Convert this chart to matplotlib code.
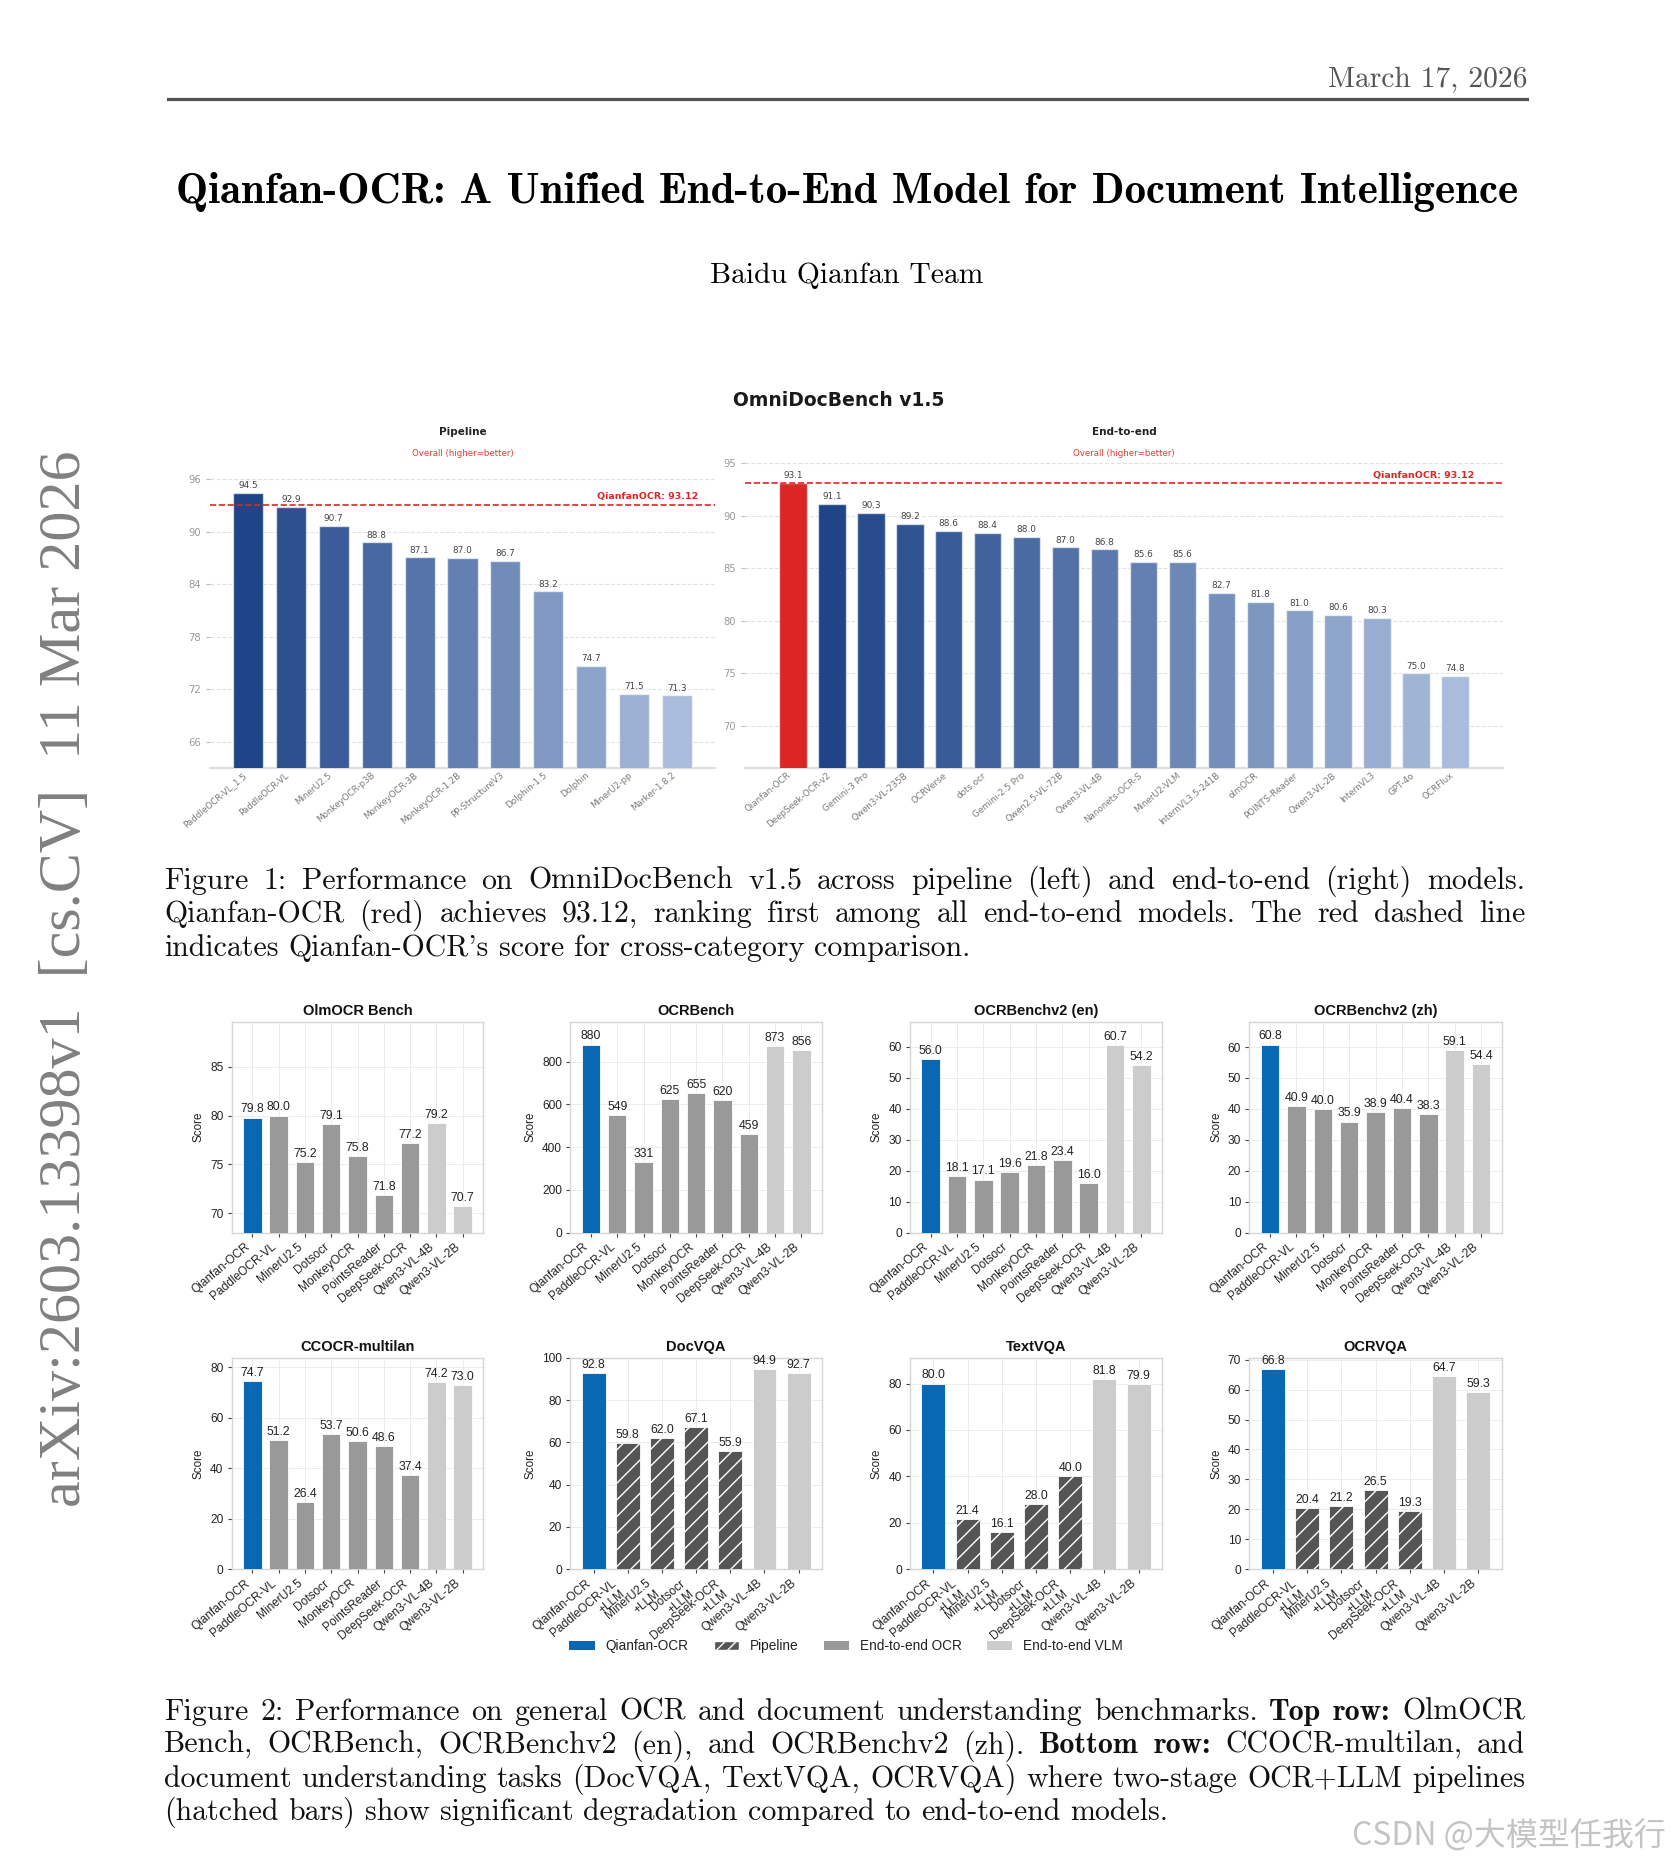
import matplotlib
matplotlib.use("Agg")
import matplotlib.pyplot as plt
from matplotlib.patches import Patch
from matplotlib.colors import to_rgb
import numpy as np

# ---------------- data ----------------
pipe_models = ["PaddleOCR-VL_1.5", "PaddleOCR-VL", "MinerU2.5", "MonkeyOCR-p3B", "MonkeyOCR-3B",
               "MonkeyOCR-1.2B", "PP-StructureV3", "Dolphin-1.5", "Dolphin", "MinerU2-pp", "Marker-1.8.2"]
pipe_scores = [94.5, 92.9, 90.7, 88.8, 87.1, 87.0, 86.7, 83.2, 74.7, 71.5, 71.3]

e2e_models = ["Qianfan-OCR", "DeepSeek-OCR-v2", "Gemini-3 Pro", "Qwen3-VL-235B", "OCRVerse", "dots.ocr",
              "Gemini-2.5 Pro", "Qwen2.5-VL-72B", "Qwen3-VL-4B", "Nanonets-OCR-S", "MinerU2-VLM",
              "InternVL3.5-241B", "olmOCR", "POINTS-Reader", "Qwen3-VL-2B", "InternVL3", "GPT-4o", "OCRFlux"]
e2e_scores = [93.12, 91.1, 90.3, 89.2, 88.6, 88.4, 88.0, 87.0, 86.8, 85.6, 85.6, 82.7, 81.8, 81.0,
              80.6, 80.3, 75.0, 74.8]
qianfan_omni = 93.12

ocr_models = ["Qianfan-OCR", "PaddleOCR-VL", "MinerU2.5", "Dotsocr", "MonkeyOCR", "PointsReader",
              "DeepSeek-OCR", "Qwen3-VL-4B", "Qwen3-VL-2B"]
ocr_groups = ["qianfan", "e2e", "e2e", "e2e", "e2e", "e2e", "e2e", "vlm", "vlm"]
olmocr_bench = [79.8, 80.0, 75.2, 79.1, 75.8, 71.8, 77.2, 79.2, 70.7]
ocrbench = [880, 549, 331, 625, 655, 620, 459, 873, 856]
ocrbenchv2_en = [56.0, 18.1, 17.1, 19.6, 21.8, 23.4, 16.0, 60.7, 54.2]
ocrbenchv2_zh = [60.8, 40.9, 40.0, 35.9, 38.9, 40.4, 38.3, 59.1, 54.4]
ccocr_multilan = [74.7, 51.2, 26.4, 53.7, 50.6, 48.6, 37.4, 74.2, 73.0]

vqa_models = ["Qianfan-OCR", "PaddleOCR-VL\n+LLM", "MinerU2.5\n+LLM", "Dotsocr\n+LLM",
              "DeepSeek-OCR\n+LLM", "Qwen3-VL-4B", "Qwen3-VL-2B"]
vqa_groups = ["qianfan", "pipeline", "pipeline", "pipeline", "pipeline", "vlm", "vlm"]
docvqa = [92.8, 59.8, 62.0, 67.1, 55.9, 94.9, 92.7]
textvqa = [80.0, 21.4, 16.1, 28.0, 40.0, 81.8, 79.9]
ocrvqa = [66.8, 20.4, 21.2, 26.5, 19.3, 64.7, 59.3]

legend_labels = ["Qianfan-OCR", "Pipeline", "End-to-end OCR", "End-to-end VLM"]

cap1 = ["Figure 1:  Performance on OmniDocBench v1.5 across pipeline (left) and end-to-end (right) models.",
        "Qianfan-OCR (red) achieves 93.12, ranking first among all end-to-end models.  The red dashed line",
        "indicates Qianfan-OCR's score for cross-category comparison."]
cap2 = ["Figure 2: Performance on general OCR and document understanding benchmarks. *Top* *row:* OlmOCR",
        "Bench, OCRBench, OCRBenchv2 (en), and OCRBenchv2 (zh).  *Bottom* *row:* CCOCR-multilan, and",
        "document understanding tasks (DocVQA, TextVQA, OCRVQA) where two-stage OCR+LLM pipelines",
        "(hatched bars) show significant degradation compared to end-to-end models."]

# ---------------- figure ----------------
W, H, DPI = 1671, 1868, 100
plt.rcParams['font.family'] = ['DejaVu Sans']
fig = plt.figure(figsize=(W / DPI, H / DPI), dpi=DPI)
fig.patch.set_facecolor('white')
R = fig.canvas.get_renderer()

SERIF = ['cmr10', 'DejaVu Serif']
SERIF_B = ['cmb10', 'DejaVu Serif']
CAP_X0, CAP_X1 = 164, 1525


def fx(x):
    return x / W


def fy(y):
    return 1 - y / H


def add_ax(x0, y0, x1, y1):
    return fig.add_axes([fx(x0), fy(y1), (x1 - x0) / W, (y1 - y0) / H])


def width_of(t):
    return t.get_window_extent(renderer=R).width


def fitted(x, y, s, target_w, **kw):
    t = fig.text(fx(x), fy(y), s, fontsize=20, **kw)
    t.set_fontsize(20 * target_w / width_of(t))
    return t


def make_words(text, size, y=0):
    objs = []
    for w in text.split():
        bold = w.startswith('*')
        w = w.strip('*')
        objs.append(fig.text(0, fy(y), w, fontsize=size, family=SERIF_B if bold else SERIF,
                             va='baseline', ha='left', color='#111111'))
    return objs


def natural_scale(text):
    objs = make_words(text, 20)
    ws = sum(width_of(o) for o in objs)
    sp = 0.333 * 20 * DPI / 72
    nat = ws + sp * (len(objs) - 1)
    for o in objs:
        o.remove()
    return (CAP_X1 - CAP_X0) / nat


def caption_line(y, text, size, justify=True):
    objs = make_words(text, size, y)
    ws = [width_of(o) for o in objs]
    if justify and len(objs) > 1:
        gap = (CAP_X1 - CAP_X0 - sum(ws)) / (len(objs) - 1)
    else:
        gap = 0.333 * size * DPI / 72
    x = CAP_X0
    for o, w in zip(objs, ws):
        o.set_x(fx(x))
        x += w + gap


# caption font size: tightest justified line sets natural spacing
cap_size = 20 * min(natural_scale(t) for t in cap1[:-1] + cap2[:-1])

# ---------------- page header ----------------
fitted(1527, 79.5, "March 17, 2026", 200, family=SERIF, ha='right', va='center', color='#555555')
fig.add_artist(plt.Line2D([fx(168), fx(1527)], [fy(99), fy(99)], color='#555555', lw=2.3))
fitted(847.5, 192, "Qianfan-OCR: A Unified End-to-End Model for Document Intelligence", 1341,
       family=SERIF_B, ha='center', va='center', color='black')
fitted(847, 276, "Baidu Qianfan Team", 274, family=SERIF, ha='center', va='center', color='black')

# arXiv side stamp
arx = fig.text(fx(66), fy(979), "arXiv:2603.13398v1  [cs.CV]  11 Mar 2026", fontsize=40,
               family=['Liberation Serif', 'DejaVu Serif'], color='#808080', ha='center', va='center')
arx.set_fontsize(40 * 1056 / width_of(arx))
arx.set_rotation(90)

# watermark
fitted(1666, 1836, "CSDN @大模型任我行", 313, family=['Noto Sans CJK SC', 'DejaVu Sans'],
       ha='right', va='center', color='#c4c4c4')

# ---------------- Figure 1 ----------------
fig.text(fx(839), fy(401), "OmniDocBench v1.5", fontsize=13.5, fontweight='bold', ha='center',
         va='center', color='#1a1a1a')


def ramp(n, c0='#1f4488', c1='#a9bcdb'):
    a, b = np.array(to_rgb(c0)), np.array(to_rgb(c1))
    return [tuple(a + (b - a) * i / (n - 1)) for i in range(n)]


def omni_panel(ax, names, vals, colors, ticks, ylim, title, xc):
    x = np.arange(len(vals))
    ax.bar(x, vals, width=0.7, color=colors, edgecolor=(1, 1, 1, 0.6), linewidth=1.0, zorder=3)
    ax.set_ylim(*ylim)
    ax.set_yticks(ticks)
    ax.yaxis.grid(True, ls='--', color='#e2e2e2', lw=0.8)
    ax.set_axisbelow(True)
    for s in ['left', 'top', 'right']:
        ax.spines[s].set_visible(False)
    ax.spines['bottom'].set_color('#dddddd')
    ax.spines['bottom'].set_linewidth(1.5)
    ax.tick_params(axis='y', length=3, width=0.8, color='#bbbbbb', labelcolor='#999999', labelsize=7.2)
    ax.tick_params(axis='x', length=0, labelcolor='#7a7a7a', labelsize=6.3, pad=2)
    ax.set_xticks(x)
    ax.set_xticklabels(names, rotation=40, ha='right')
    for xi, v in zip(x, vals):
        ax.annotate(f"{v:.1f}", (xi, v), xytext=(0, 2), textcoords='offset points',
                    ha='center', va='bottom', fontsize=6.4, color='#444444')
    ax.axhline(qianfan_omni, color='#dc2626', ls='--', lw=1.2, zorder=4)
    ax.annotate(f"QianfanOCR: {qianfan_omni:.2f}", (len(vals) - 0.5, qianfan_omni), xytext=(0, 2.5),
                textcoords='offset points', ha='right', va='bottom', color='#dc2626',
                fontsize=6.8, fontweight='bold')
    fig.text(fx(xc), fy(432), title, fontsize=7.5, fontweight='bold', ha='center', va='center',
             color='#222222')
    fig.text(fx(xc), fy(453), "Overall (higher=better)", fontsize=6.2, ha='center', va='center',
             color='#e53935')


axL = add_ax(210, 462, 715, 768)
omni_panel(axL, pipe_models, pipe_scores, ramp(len(pipe_scores)), [66, 72, 78, 84, 90, 96],
           (63, 98), "Pipeline", 462.5)
axR = add_ax(745, 462, 1503, 768)
omni_panel(axR, e2e_models, e2e_scores, ['#dc2626'] + ramp(len(e2e_scores) - 1),
           [70, 75, 80, 85, 90, 95], (66, 95.12), "End-to-end", 1124)

for i, line in enumerate(cap1):
    caption_line(889 + 33.3 * i, line, cap_size, justify=(i < len(cap1) - 1))

# ---------------- Figure 2 ----------------
COLORS = {'qianfan': '#0868b4', 'pipeline': '#555555', 'e2e': '#999999', 'vlm': '#cccccc'}
SANS2 = ['Liberation Sans', 'DejaVu Sans']
plt.rcParams['hatch.linewidth'] = 1.0

panels = [
    ("OlmOCR Bench", ocr_models, ocr_groups, olmocr_bench, (68, 89.6), [70, 75, 80, 85], "{:.1f}"),
    ("OCRBench", ocr_models, ocr_groups, ocrbench, (0, 985.6), [0, 200, 400, 600, 800], "{:.0f}"),
    ("OCRBenchv2 (en)", ocr_models, ocr_groups, ocrbenchv2_en, (0, 68.0), [0, 10, 20, 30, 40, 50, 60], "{:.1f}"),
    ("OCRBenchv2 (zh)", ocr_models, ocr_groups, ocrbenchv2_zh, (0, 68.1), [0, 10, 20, 30, 40, 50, 60], "{:.1f}"),
    ("CCOCR-multilan", ocr_models, ocr_groups, ccocr_multilan, (0, 83.7), [0, 20, 40, 60, 80], "{:.1f}"),
    ("DocVQA", vqa_models, vqa_groups, docvqa, (0, 100), [0, 20, 40, 60, 80, 100], "{:.1f}"),
    ("TextVQA", vqa_models, vqa_groups, textvqa, (0, 91), [0, 20, 40, 60, 80], "{:.1f}"),
    ("OCRVQA", vqa_models, vqa_groups, ocrvqa, (0, 70.6), [0, 10, 20, 30, 40, 50, 60, 70], "{:.1f}"),
]
cols_px = [(231.7, 483.3), (570.3, 822), (910, 1162), (1249.4, 1501.7)]
rows_px = [(1022, 1232.5), (1358, 1569)]

with plt.rc_context({'font.family': SANS2}):
    for k, (title, names, groups, vals, ylim, ticks, fmt) in enumerate(panels):
        r, c = divmod(k, 4)
        ax = add_ax(cols_px[c][0], rows_px[r][0], cols_px[c][1], rows_px[r][1])
        x = np.arange(len(vals))
        for xi, v, g in zip(x, vals, groups):
            ax.bar(xi, v, width=0.7, color=COLORS[g], edgecolor='white', linewidth=0.6,
                   hatch='//' if g == 'pipeline' else None, zorder=3)
            ax.annotate(fmt.format(v), (xi, v), xytext=(0, 1.5), textcoords='offset points',
                        ha='center', va='bottom', fontsize=8.8, color='#222222', family=SANS2)
        ax.set_ylim(*ylim)
        ax.set_yticks(ticks)
        ax.set_xticks(x)
        ax.set_xticklabels(names, rotation=40, ha='right')
        ax.grid(True, color='#ececec', lw=0.7)
        ax.set_axisbelow(True)
        for s in ax.spines.values():
            s.set_color('#d6d6d6')
            s.set_linewidth(1.0)
        ax.tick_params(length=3, width=0.8, color='#444444', labelsize=8.6, labelcolor='#222222', pad=3)
        ax.set_ylabel("Score", fontsize=8.4, color='#222222', family=SANS2, labelpad=4)
        ax.set_title(title, fontsize=10.5, fontweight='bold', pad=5, color='#111111', family=SANS2)
        plt.setp(ax.get_xticklabels() + ax.get_yticklabels(), family=SANS2)

    handles = [Patch(facecolor=COLORS['qianfan'], label=legend_labels[0]),
               Patch(facecolor=COLORS['pipeline'], edgecolor='white', hatch='///', label=legend_labels[1]),
               Patch(facecolor=COLORS['e2e'], label=legend_labels[2]),
               Patch(facecolor=COLORS['vlm'], label=legend_labels[3])]
    leg = fig.legend(handles=handles, loc='center', bbox_to_anchor=(fx(846), fy(1646)), ncol=4,
                     frameon=False, fontsize=9.8, handlelength=1.85, handleheight=0.6,
                     handletextpad=0.8, columnspacing=1.85)
    for t in leg.get_texts():
        t.set_family(SANS2)
        t.set_color('#222222')

for i, line in enumerate(cap2):
    caption_line(1720 + 33.3 * i, line, cap_size, justify=(i < len(cap2) - 1))

fig.savefig("out.png", dpi=DPI, facecolor='white')
